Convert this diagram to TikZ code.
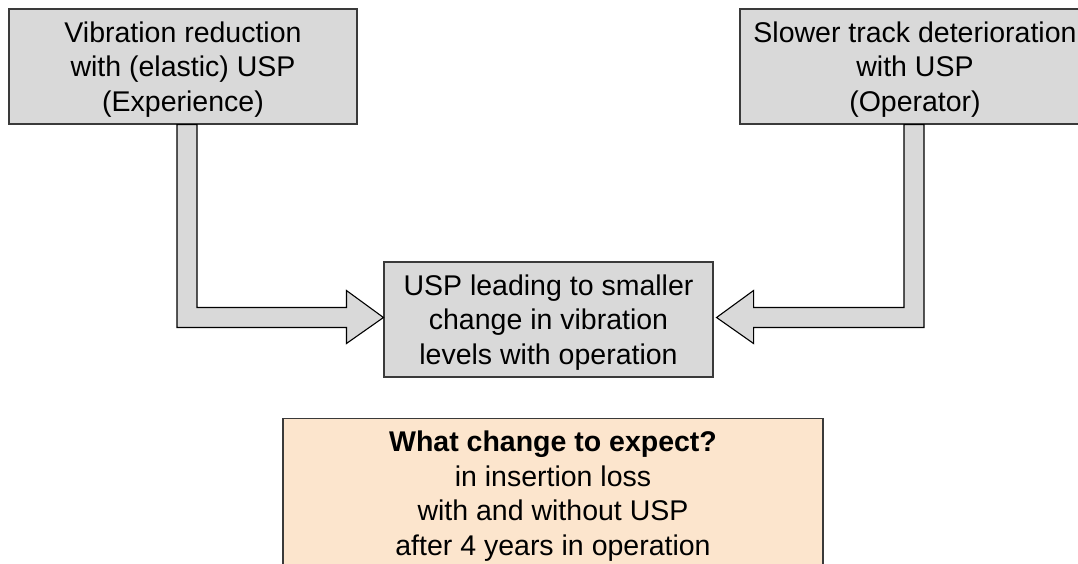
\documentclass[tikz,border=0pt]{standalone}
\usepackage{fontspec}
\setmainfont{Liberation Sans}
\usepackage{xcolor}
\usetikzlibrary{positioning, calc}

\definecolor{boxgrey}{HTML}{D9D9D9}
\definecolor{noteorange}{HTML}{FCE5CD}
\definecolor{edgegrey}{HTML}{3A3A3A}

\begin{document}
\begin{tikzpicture}[
    x=1pt, y=-1pt,
    greybox/.style={rectangle, minimum width=348pt, minimum height=115pt, align=center, draw=edgegrey, line width=1.1pt, fill=boxgrey, font=\fontsize{28.5}{34.5}\selectfont, inner sep=0pt, text depth=0pt},
    notebox/.style={rectangle, minimum width=540pt, minimum height=155pt, align=center, draw=edgegrey, line width=1.1pt, fill=noteorange, font=\fontsize{28.5}{34.5}\selectfont, inner sep=0pt},
    fatarrow/.style={draw=black, line width=1.1pt, fill=boxgrey, line join=miter}
]
\useasboundingbox (0,0) rectangle (1078,563);
\clip (0,0) rectangle (1078,563);

% Boxes
\node (lbox) [greybox] at (183,66.5) {Vibration reduction\\with (elastic) USP\\(Experience)};
\node (rbox) [greybox, minimum width=350pt] at (915,66.5) {Slower track deterioration\\with USP\\(Operator)};
\node (cbox) [greybox, minimum width=329pt] at (548.5,319.5) {USP leading to smaller\\change in vibration\\levels with operation};
\node (note) [notebox, anchor=north] at (553,418) {\textbf{What change to expect?}\\in insertion loss\\with and without USP\\after 4 years in operation};

% Tips of the fat arrows
\coordinate (ltip) at ($(cbox.west)+(0,-2)$);
\coordinate (rtip) at ($(cbox.east)+(3,-2)$);

% Fat arrows
\draw [fatarrow] ($(lbox.south)+(-6,0)$) |- ($(ltip)+(-37,10)$) -- ++(0,16) -- (ltip) -- ++(-37,-27) -- ++(0,17) -| ($(lbox.south)+(14,0)$) -- cycle;
\draw [fatarrow] ($(rbox.south)+(9,0)$) |- ($(rtip)+(37,10)$) -- ++(0,16) -- (rtip) -- ++(37,-27) -- ++(0,17) -| ($(rbox.south)+(-11,0)$) -- cycle;
\end{tikzpicture}
\end{document}
